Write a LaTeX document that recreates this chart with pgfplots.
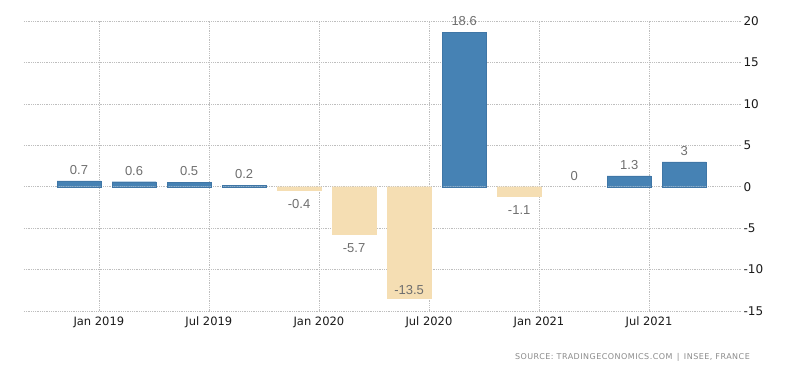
\documentclass[border=0pt]{standalone}
\usepackage{pgfplots}
\pgfplotsset{compat=1.18}
\usepackage{fontspec}
\setmainfont{DejaVu Sans}
\newfontfamily\labfont{Liberation Sans}
\newfontfamily\srcfont[LetterSpace=6]{DejaVu Sans}
\definecolor{barblue}{HTML}{4682B4}
\definecolor{barblueedge}{HTML}{3F76A6}
\definecolor{barwheat}{HTML}{F5DEB3}
\definecolor{gridc}{HTML}{BEBEBE}
\definecolor{labc}{HTML}{6E6E6E}
\definecolor{tickc}{HTML}{1A1A1A}
\definecolor{srcc}{HTML}{8A8A8A}
\begin{document}
\begin{tikzpicture}
\begin{axis}[
  scale only axis, width=718pt, height=290pt,
  xmin=-1, xmax=12.05, ymin=-15, ymax=20,
  ytick={-15,-10,-5,0,5,10,15,20},
  yticklabel pos=right,
  xtick={0.36,2.36,4.36,6.36,8.36,10.36},
  xticklabels={Jan 2019,Jul 2019,Jan 2020,Jul 2020,Jan 2021,Jul 2021},
  axis line style={draw=none},
  major tick length=0pt,
  grid=major,
  major grid style={gridc, dash pattern=on 0.6pt off 1.2pt, line width=0.6pt},
  ticklabel style={font=\fontsize{11.5}{13}\selectfont, text=tickc},
  yticklabel style={anchor=west, xshift=-2pt, font=\fontsize{12}{14}\selectfont},
  xticklabel style={yshift=-2pt},
  /pgf/number format/assume math mode=true,
  clip=false,
]
\coordinate (bl) at (rel axis cs:0,0);
\coordinate (tr) at (rel axis cs:1,1);
\coordinate (br) at (rel axis cs:1,0);
% positive bars
\addplot[ybar, bar width=0.8, bar shift=0pt, fill=barblue, draw=barblueedge, line width=0.4pt]
  coordinates {(0,0.7) (1,0.6) (2,0.5) (3,0.2) (7,18.6) (10,1.3) (11,3)};
% negative bars
\addplot[ybar, bar width=0.8, bar shift=0pt, fill=barwheat, draw=barwheat, line width=0.4pt]
  coordinates {(4,-0.4) (5,-5.7) (6,-13.5) (8,-1.1)};
% labels above
\addplot[draw=none, nodes near coords, point meta=explicit symbolic,
  every node near coord/.append style={anchor=south, yshift=3pt, font=\labfont\fontsize{13}{15}\selectfont, text=labc}]
  coordinates {(0,0.7)[0.7] (1,0.6)[0.6] (2,0.5)[0.5] (3,0.2)[0.2] (7,18.6)[18.6] (9,0)[0] (10,1.3)[1.3] (11,3)[3]};
% labels below
\addplot[draw=none, nodes near coords, point meta=explicit symbolic,
  every node near coord/.append style={anchor=north, yshift=-6pt, font=\labfont\fontsize{13}{15}\selectfont, text=labc}]
  coordinates {(4,-0.4)[-0.4] (5,-5.7)[-5.7] (8,-1.1)[-1.1]};
% label inside
\addplot[draw=none, nodes near coords, point meta=explicit symbolic,
  every node near coord/.append style={anchor=south, yshift=0pt, font=\labfont\fontsize{13}{15}\selectfont, text=labc}]
  coordinates {(6,-13.5)[-13.5]};
\end{axis}
\node[anchor=east, inner sep=0pt, font=\srcfont\fontsize{8}{10}\selectfont, text=srcc]
  at ([xshift=8pt,yshift=-46pt]br) {SOURCE: TRADINGECONOMICS.COM \,|\, INSEE, FRANCE};
\path ([xshift=-24pt,yshift=-62pt]bl) rectangle ([xshift=58pt,yshift=21pt]tr);
\end{tikzpicture}
\end{document}
